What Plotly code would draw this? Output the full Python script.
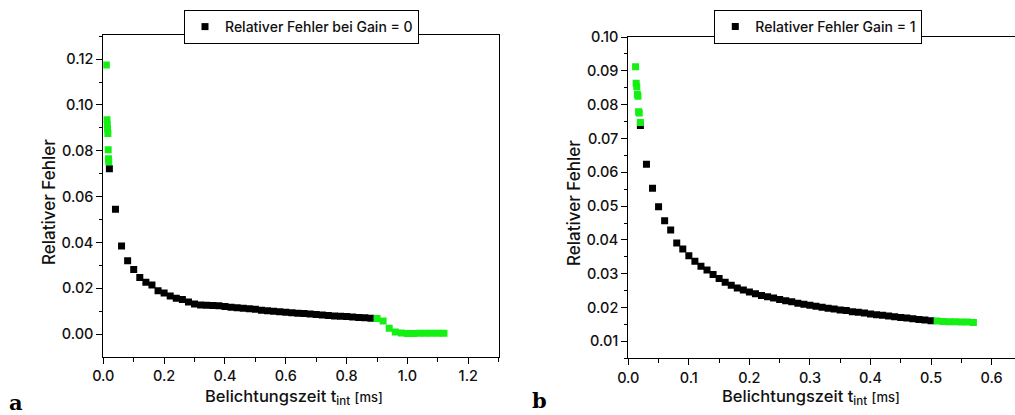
import plotly.graph_objects as go

W, H = 1015, 415

# ---------------- Panel a (Gain = 0) ----------------
a_green1_x = [0.010, 0.012, 0.013, 0.014, 0.015, 0.016, 0.017, 0.018]
a_green1_y = [0.1174, 0.0935, 0.0915, 0.0895, 0.0875, 0.0805, 0.0765, 0.0752]

a_black_x = [0.02, 0.04, 0.06, 0.08, 0.10, 0.12, 0.14, 0.16, 0.18, 0.20,
             0.22, 0.24, 0.26, 0.28, 0.30, 0.32, 0.34, 0.36, 0.38, 0.40,
             0.42, 0.44, 0.46, 0.48, 0.50, 0.52, 0.54, 0.56, 0.58, 0.60,
             0.62, 0.64, 0.66, 0.68, 0.70, 0.72, 0.74, 0.76, 0.78, 0.80,
             0.82, 0.84, 0.86, 0.88]
a_black_y = [0.0722, 0.0545, 0.0385, 0.0320, 0.0282, 0.0247, 0.0227, 0.0215, 0.0190, 0.0180,
             0.0167, 0.0157, 0.0151, 0.0141, 0.0132, 0.0127, 0.0126, 0.0125, 0.0124, 0.0121,
             0.0118, 0.0116, 0.0113, 0.0111, 0.0109, 0.0105, 0.0102, 0.0100, 0.0098, 0.0096,
             0.0094, 0.0092, 0.0090, 0.0088, 0.0086, 0.0084, 0.0082, 0.0080, 0.0078, 0.0077,
             0.0075, 0.0073, 0.0072, 0.0070]

a_green2_x = [0.90, 0.92, 0.94, 0.96, 0.98, 1.00, 1.02, 1.04, 1.06, 1.08, 1.10, 1.12]
a_green2_y = [0.0069, 0.0058, 0.0026, 0.0010, 0.0005, 0.0003, 0.0003, 0.0004, 0.0004, 0.0004, 0.0004, 0.0004]

# ---------------- Panel b (Gain = 1) ----------------
b_green1_x = [0.012, 0.013, 0.014, 0.015, 0.016, 0.017, 0.018, 0.020]
b_green1_y = [0.0912, 0.0863, 0.0853, 0.0831, 0.0825, 0.0779, 0.0775, 0.0747]

b_black_x = [0.02, 0.03, 0.04, 0.05, 0.06, 0.07, 0.08, 0.09, 0.10,
             0.11, 0.12, 0.13, 0.14, 0.15, 0.16, 0.17, 0.18, 0.19, 0.20,
             0.21, 0.22, 0.23, 0.24, 0.25, 0.26, 0.27, 0.28, 0.29, 0.30,
             0.31, 0.32, 0.33, 0.34, 0.35, 0.36, 0.37, 0.38, 0.39, 0.40,
             0.41, 0.42, 0.43, 0.44, 0.45, 0.46, 0.47, 0.48, 0.49, 0.50]
b_black_y = [0.0738, 0.0624, 0.0553, 0.0498, 0.0457, 0.0429, 0.0391, 0.0373, 0.0353,
             0.0337, 0.0322, 0.0311, 0.0298, 0.0286, 0.0275, 0.0266, 0.0258, 0.0252, 0.0246,
             0.0241, 0.0236, 0.0232, 0.0228, 0.0224, 0.0220, 0.0217, 0.0213, 0.0210, 0.0207,
             0.0204, 0.0201, 0.0198, 0.0196, 0.0193, 0.0191, 0.0188, 0.0186, 0.0184, 0.0181,
             0.0179, 0.0177, 0.0175, 0.0173, 0.0171, 0.0169, 0.0167, 0.0165, 0.0163, 0.0161]

b_green2_x = [0.51, 0.52, 0.53, 0.54, 0.55, 0.56, 0.57]
b_green2_y = [0.0160, 0.0159, 0.0158, 0.0158, 0.0157, 0.0157, 0.0156]

legend_a = "Relativer Fehler bei Gain = 0"
legend_b = "Relativer Fehler Gain = 1"
y_title = "Relativer Fehler"
x_title = "Belichtungszeit t<sub>int</sub> <span style='font-size:13px'>[ms]</span>"

GREEN = "#14f014"
BLACK = "#000000"
FONT = "Inter"
TXT = "#111111"


def px(x):
    return x / W


def py(y):
    return 1 - y / H


fig = go.Figure()


def add(x, y, color, xa, ya, name=None, legend="legend"):
    fig.add_trace(go.Scatter(x=x, y=y, mode="markers", xaxis=xa, yaxis=ya, name=name or "",
                             marker=dict(symbol="square", size=7, color=color),
                             showlegend=name is not None, legend=legend))


add(a_black_x, a_black_y, BLACK, "x", "y", name=legend_a, legend="legend")
add(a_green1_x, a_green1_y, GREEN, "x", "y")
add(a_green2_x, a_green2_y, GREEN, "x", "y")
add(b_black_x, b_black_y, BLACK, "x2", "y2", name=legend_b, legend="legend2")
add(b_green1_x, b_green1_y, GREEN, "x2", "y2")
add(b_green2_x, b_green2_y, GREEN, "x2", "y2")

tickfont = dict(family=FONT, size=14.5, color=TXT, weight=500)
legfont = dict(family=FONT, size=14, color=TXT, weight=500)

# panel geometry in pixels
A = dict(l=103.3, r=499.3, t=35.0, b=356.7)
B = dict(l=628.3, r=1015.0, t=37.0, b=358.3)

a_xrange = [0, 1.302]
a_yrange = [-0.0098, 0.1305]
b_xrange = [0, 0.6387]
b_yrange = [0.005, 0.100]

fig.update_layout(
    template="none",
    width=W, height=H, margin=dict(l=0, r=0, t=0, b=0),
    paper_bgcolor="white", plot_bgcolor="white", showlegend=True,
    xaxis=dict(domain=[px(A["l"]), px(A["r"])], anchor="y", range=a_xrange,
               showline=True, mirror=True, linecolor="black", linewidth=1, showgrid=False, zeroline=False,
               ticks="outside", ticklen=6, tickcolor="black", dtick=0.2, tickformat=".1f", tickfont=tickfont,
               minor=dict(ticks="outside", dtick=0.1, ticklen=4, tickcolor="black")),
    yaxis=dict(domain=[py(A["b"]), py(A["t"])], anchor="x", range=a_yrange,
               showline=True, mirror=True, linecolor="black", linewidth=1, showgrid=False, zeroline=False,
               ticks="outside", ticklen=6, tickcolor="black", dtick=0.02, tickformat=".2f", tickfont=tickfont,
               minor=dict(ticks="outside", dtick=0.01, ticklen=3, tickcolor="black")),
    xaxis2=dict(domain=[px(B["l"]), px(B["r"])], anchor="y2", range=b_xrange,
                showline=True, mirror=True, linecolor="black", linewidth=1, showgrid=False, zeroline=False,
                ticks="outside", ticklen=6, tickcolor="black", dtick=0.1, tickformat=".1f", tickfont=tickfont,
                minor=dict(ticks="outside", dtick=0.05, ticklen=4, tickcolor="black")),
    yaxis2=dict(domain=[py(B["b"]), py(B["t"])], anchor="x2", range=b_yrange,
                showline=True, mirror=True, linecolor="black", linewidth=1, showgrid=False, zeroline=False,
                ticks="outside", ticklen=6, tickcolor="black", dtick=0.01, tickformat=".2f", tickfont=tickfont,
                minor=dict(ticks="outside", dtick=0.005, ticklen=3, tickcolor="black")),
    legend=dict(x=px(184), y=py(10), xanchor="left", yanchor="top", bgcolor="white",
                bordercolor="black", borderwidth=1, font=legfont, itemwidth=30,
                tracegroupgap=0),
    legend2=dict(x=px(714.3), y=py(10), xanchor="left", yanchor="top", bgcolor="white",
                 bordercolor="black", borderwidth=1, font=legfont, itemwidth=30,
                 tracegroupgap=0),
)

# axis titles and panel letters as annotations
titlefont = dict(family=FONT, size=17, color=TXT, weight=500)
xtitlefont = dict(family=FONT, size=16.5, color=TXT, weight=500)
letterfont = dict(family="DejaVu Serif", size=21, color="black", weight="bold")
ann = [
    dict(x=px(49), y=py(202), text=y_title, textangle=-90, font=titlefont),
    dict(x=px(574), y=py(203), text=y_title, textangle=-90, font=titlefont),
    dict(x=px(293.5), y=py(397), text=x_title, font=xtitlefont),
    dict(x=px(811), y=py(397), text=x_title, font=xtitlefont),
    dict(x=px(16), y=py(402), text="a", font=letterfont),
    dict(x=px(539), y=py(400), text="b", font=letterfont),
]
for a in ann:
    a.update(xref="paper", yref="paper", showarrow=False, xanchor="center", yanchor="middle")
fig.update_layout(annotations=ann)

fig.write_html("out.html")
